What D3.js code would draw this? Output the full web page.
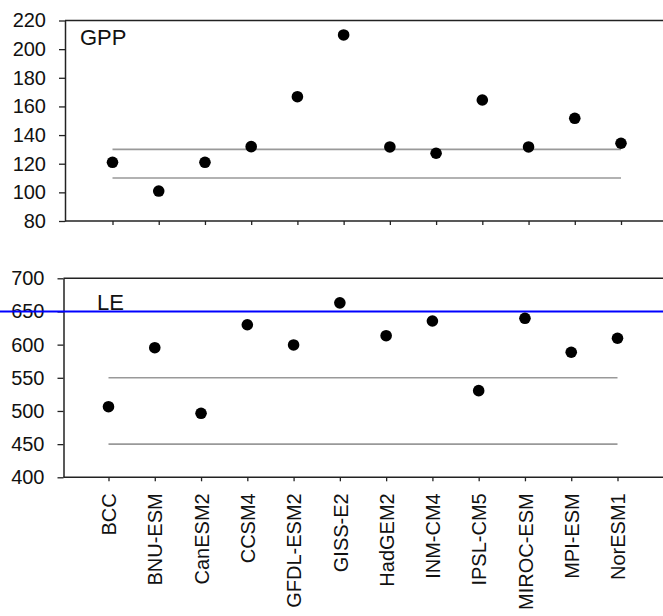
<!DOCTYPE html>
<html><head><meta charset="utf-8">
<script src="https://cdn.jsdelivr.net/npm/d3@7"></script>
<style>
body{margin:0;background:#fff;}
svg{display:block;font-family:"Liberation Sans",Arial,sans-serif;}
</style></head>
<body><svg id="c" width="663" height="616"></svg>
<script>
const models = ["BCC","BNU-ESM","CanESM2","CCSM4","GFDL-ESM2","GISS-E2","HadGEM2","INM-CM4","IPSL-CM5","MIROC-ESM","MPI-ESM","NorESM1"];
const gppValues = [121, 100.9, 121, 131.9, 166.8, 209.9, 131.7, 127.3, 164.5, 131.7, 151.7, 134.3];
const leValues  = [506.4, 595.4, 496.5, 630, 599.5, 663, 613.5, 635.6, 530.6, 639.7, 588.5, 609.6];
const gppTicks = [80,100,120,140,160,180,200,220];
const leTicks  = [400,450,500,550,600,650,700];
const gppRefLines = [110,130];
const leRefLines  = [450,550];
const leBlueLine  = 650;

const svg = d3.select("#c");
const W = 663;

function panel(cfg){
  const g = svg.append("g");
  const x = d3.scalePoint().domain(models).range(cfg.xr);
  const y = d3.scaleLinear().domain(cfg.dom).range(cfg.yr);
  // ref lines
  g.selectAll("line.ref").data(cfg.refs).enter().append("line")
    .attr("x1", x(models[0])).attr("x2", x(models[models.length-1]))
    .attr("y1", d=>y(d)).attr("y2", d=>y(d))
    .attr("stroke","#999").attr("stroke-width",1.6);
  // top frame
  g.append("line").attr("x1",cfg.ax).attr("x2",W+5)
    .attr("y1",cfg.yr[1]).attr("y2",cfg.yr[1])
    .attr("stroke","#222").attr("stroke-width",1.5);
  // y axis
  const ya = d3.axisLeft(y).tickValues(cfg.ticks).tickSize(6).tickSizeOuter(0).tickPadding(13);
  const yg = g.append("g").attr("transform",`translate(${cfg.ax},0)`).call(ya);
  yg.select(".domain").attr("stroke","#222").attr("stroke-width",1.5);
  yg.selectAll(".tick line").attr("stroke","#222").attr("stroke-width",1.3);
  yg.selectAll("text").attr("font-size",20).attr("fill","#111").attr("font-family","Liberation Sans, Arial, sans-serif");
  // x axis
  const xa = d3.axisBottom(x).tickSize(4).tickSizeOuter(0);
  if(!cfg.labels) xa.tickFormat("");
  const xg = g.append("g").attr("transform",`translate(0,${cfg.yr[0]})`).call(xa);
  xg.select(".domain").attr("d",`M${cfg.ax},0H${W+5}`).attr("stroke","#222").attr("stroke-width",1.5);
  xg.selectAll(".tick line").attr("stroke","#222").attr("stroke-width",1.3);
  if(cfg.labels){
    xg.selectAll("text").attr("transform","rotate(-90)").attr("text-anchor","end")
      .attr("x",-16).attr("y",0).attr("dy","0.36em")
      .attr("font-size",20).attr("fill","#111").attr("font-family","Liberation Sans, Arial, sans-serif");
  }
  // blue line
  if(cfg.blue!==undefined){
    g.append("line").attr("x1",0).attr("x2",W).attr("y1",y(cfg.blue)).attr("y2",y(cfg.blue))
      .attr("stroke","#0000ff").attr("stroke-width",2);
  }
  // points
  g.selectAll("circle").data(cfg.vals).enter().append("circle")
    .attr("cx",(d,i)=>x(models[i])).attr("cy",d=>y(d)).attr("r",5.8).attr("fill","#000");
  // panel label
  g.append("text").attr("x",cfg.lx).attr("y",cfg.ly).text(cfg.name)
    .attr("font-size",22).attr("fill","#111");
}

panel({name:"GPP", vals:gppValues, dom:[80,220], yr:[221,20.5], xr:[112.5,621], ax:65,
       ticks:gppTicks, refs:gppRefLines, labels:false, lx:80, ly:45});
panel({name:"LE", vals:leValues, dom:[400,700], yr:[477.3,278.3], xr:[108.5,617.5], ax:63.5,
       ticks:leTicks, refs:leRefLines, labels:true, blue:leBlueLine, lx:97, ly:310});
</script></body></html>
